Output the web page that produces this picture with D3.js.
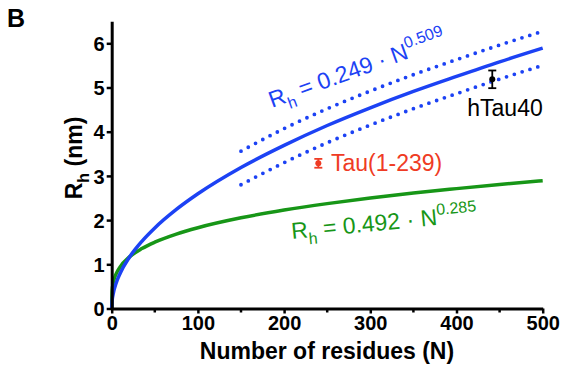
<!DOCTYPE html>
<meta charset="utf-8">
<style>
body { margin: 0; background: #fff; }
svg text { font-family: "Liberation Sans", Arial, sans-serif; }
.axis path, .axis line { stroke: #000; }
.axis text { font-weight: bold; font-size: 20px; fill: #000; }
</style>
<svg width="564" height="371"></svg>
<script src="https://cdnjs.cloudflare.com/ajax/libs/d3/7.8.5/d3.min.js"></script>
<script>
// values
var residues = [0, 0.5, 2, 5, 10, 20, 35, 50, 75, 100, 150, 200, 250, 300, 350, 400, 450, 500];
var rhBlue   = [0, 0.175, 0.354, 0.565, 0.804, 1.144, 1.52, 1.823, 2.241, 2.595, 3.19, 3.69, 4.14, 4.54, 4.91, 5.25, 5.58, 5.89];
var rhGreen  = [0, 0.404, 0.599, 0.778, 0.948, 1.156, 1.355, 1.5, 1.684, 1.828, 2.052, 2.227, 2.373, 2.501, 2.613, 2.712, 2.806, 2.892];
var bandN     = [150, 200, 250, 300, 350, 400, 450, 495];
var bandUpper = [3.56, 4.07, 4.52, 4.92, 5.29, 5.63, 5.96, 6.24];
var bandLower = [2.8, 3.3, 3.75, 4.15, 4.52, 4.86, 5.19, 5.47];
var points = [
  {name: "Tau(1-239)", n: 239.7, rh: 3.285, err: 0.1, color: "#ef3b24"},
  {name: "hTau40", n: 441.5, rh: 5.185, err: 0.2, color: "#000"}
];
var xTicks = [0, 100, 200, 300, 400, 500];
var xMinor = [50, 150, 250, 350, 450];
var yTicks = [0, 1, 2, 3, 4, 5, 6];

var blue = "#1c42f4", green = "#179617";

var svg = d3.select("svg");
var x = d3.scaleLinear().domain([0, 500]).range([111.7, 542.7]);
var y = d3.scaleLinear().domain([0, 6.5]).range([308.5, 21.2]);

// panel letter
svg.append("text").attr("x", 7).attr("y", 27)
    .style("font-weight", "bold").style("font-size", "25px").text("B");

// curves
var line = d3.line().x(d => x(d[0])).y(d => y(d[1])).curve(d3.curveMonotoneX);
svg.append("path").datum(residues.map((n, i) => [n, rhGreen[i]]))
    .attr("d", line).attr("fill", "none").attr("stroke", green).attr("stroke-width", 3.5);
svg.append("path").datum(residues.map((n, i) => [n, rhBlue[i]]))
    .attr("d", line).attr("fill", "none").attr("stroke", blue).attr("stroke-width", 3.5);
[bandUpper, bandLower].forEach(function(band) {
  svg.append("path").datum(bandN.map((n, i) => [n, band[i]]))
      .attr("d", line).attr("fill", "none").attr("stroke", blue)
      .attr("stroke-width", 3.8).attr("stroke-linecap", "round")
      .attr("stroke-dasharray", "0,8.2");
});

// data points with error bars
var pts = svg.append("g").selectAll("g").data(points).enter().append("g");
pts.append("line")
    .attr("x1", d => x(d.n)).attr("x2", d => x(d.n))
    .attr("y1", d => y(d.rh + d.err)).attr("y2", d => y(d.rh - d.err))
    .attr("stroke", d => d.color).attr("stroke-width", 1.8);
pts.each(function(d) {
  var g = d3.select(this);
  [d.rh + d.err, d.rh - d.err].forEach(function(v) {
    g.append("line").attr("x1", x(d.n) - 4).attr("x2", x(d.n) + 4)
        .attr("y1", y(v)).attr("y2", y(v))
        .attr("stroke", d.color).attr("stroke-width", 1.8);
  });
});
pts.append("circle").attr("cx", d => x(d.n)).attr("cy", d => y(d.rh))
    .attr("r", 3).attr("fill", d => d.color);

// point labels
svg.append("text").attr("x", 331).attr("y", 171).attr("fill", points[0].color)
    .style("font-size", "23px").text(points[0].name);
svg.append("text").attr("x", 505).attr("y", 116).attr("text-anchor", "middle")
    .attr("fill", points[1].color).style("font-size", "23px").text(points[1].name);

// equations
function equation(xp, yp, angle, color, coef, expo) {
  var t = svg.append("text")
      .attr("transform", "translate(" + xp + "," + yp + ") rotate(" + angle + ")")
      .attr("fill", color).style("font-size", "23px");
  t.append("tspan").text("R");
  t.append("tspan").attr("dy", 7).style("font-size", "16px").text("h");
  t.append("tspan").attr("dy", -7).text(" = " + coef + " \u00b7 N");
  t.append("tspan").attr("dy", -10).style("font-size", "16px").text(expo);
}
equation(272, 108, -20, blue, "0.249", "0.509");
equation(292, 239, -5.5, green, "0.492", "0.285");

// axes
var xAxis = svg.append("g").attr("class", "axis")
    .attr("transform", "translate(0," + y(0) + ")")
    .call(d3.axisBottom(x).tickValues(xTicks).tickFormat(d3.format("d"))
      .tickSize(5).tickSizeOuter(0).tickPadding(2));
xAxis.select(".domain").attr("stroke-width", 3);
xAxis.selectAll(".tick line").attr("stroke-width", 2.5);
xAxis.selectAll(".minor").data(xMinor).enter().append("line")
    .attr("x1", d => x(d)).attr("x2", d => x(d)).attr("y1", 0).attr("y2", 4)
    .attr("stroke", "#000").attr("stroke-width", 2.5);

var yAxis = svg.append("g").attr("class", "axis")
    .attr("transform", "translate(" + x(0) + ",0)")
    .call(d3.axisLeft(y).tickValues(yTicks).tickFormat(d3.format("d"))
      .tickSize(5).tickSizeOuter(0).tickPadding(2));
yAxis.select(".domain").attr("stroke-width", 3);
yAxis.selectAll(".tick line").attr("stroke-width", 2.5);
yAxis.selectAll(".tick text").attr("dy", "0.36em");

// axis titles
svg.append("text").attr("x", 327).attr("y", 359).attr("text-anchor", "middle")
    .style("font-weight", "bold").style("font-size", "23px").text("Number of residues (N)");
var yt = svg.append("text").attr("transform", "translate(82,158) rotate(-90)")
    .attr("text-anchor", "middle").style("font-weight", "bold").style("font-size", "23px");
yt.append("tspan").text("R");
yt.append("tspan").attr("dy", 7).style("font-size", "16px").text("h");
yt.append("tspan").attr("dy", -7).text(" (nm)");
</script>
